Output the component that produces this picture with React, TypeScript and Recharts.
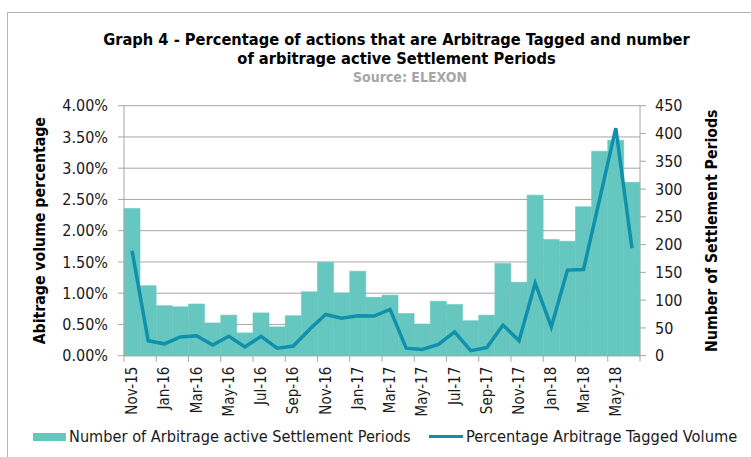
import React from 'react';
import { ComposedChart, Bar, Line, XAxis, YAxis, CartesianGrid } from 'recharts';

const months = [
  'Nov-15', 'Dec-15', 'Jan-16', 'Feb-16', 'Mar-16', 'Apr-16', 'May-16', 'Jun-16',
  'Jul-16', 'Aug-16', 'Sep-16', 'Oct-16', 'Nov-16', 'Dec-16', 'Jan-17', 'Feb-17',
  'Mar-17', 'Apr-17', 'May-17', 'Jun-17', 'Jul-17', 'Aug-17', 'Sep-17', 'Oct-17',
  'Nov-17', 'Dec-17', 'Jan-18', 'Feb-18', 'Mar-18', 'Apr-18', 'May-18', 'Jun-18',
];

// number of arbitrage active settlement periods (right axis)
const periods = [
  265, 126, 90, 88, 93, 59, 73, 41,
  77, 52, 72, 115, 168, 113, 152, 105,
  109, 76, 57, 98, 92, 63, 73, 166,
  132, 289, 209, 206, 268, 368, 388, 312,
];

// percentage arbitrage tagged volume (left axis, in %)
const taggedPct = [
  1.68, 0.24, 0.19, 0.3, 0.32, 0.17, 0.31, 0.14,
  0.31, 0.12, 0.155, 0.42, 0.66, 0.6, 0.64, 0.635,
  0.74, 0.12, 0.1, 0.18, 0.38, 0.08, 0.13, 0.49,
  0.24, 1.16, 0.46, 1.37, 1.38, 2.51, 3.64, 1.72,
];

const pctTicks = [0, 0.5, 1, 1.5, 2, 2.5, 3, 3.5, 4];
const periodTicks = [0, 50, 100, 150, 200, 250, 300, 350, 400, 450];

const data = months.map((m, i) => ({ month: m, periods: periods[i], pct: taggedPct[i] }));

const BAR_COLOR = '#66c7c0';
const LINE_COLOR = '#1190ab';
const AXIS_COLOR = '#a6a6a6';
const FONT = '"DejaVu Sans Condensed", "DejaVu Sans", sans-serif';

const X_TICK_SIZE = 6;
const X_TICK_MARGIN = 5;

const MonthTick = (props: any) => {
  const { x, y, payload, index } = props;
  const half = payload && payload.offset ? payload.offset : 8.06;
  const axisY = y - X_TICK_SIZE - X_TICK_MARGIN;
  const lastShown = index === Math.floor((months.length - 1) / 2);
  return (
    <g>
      <line x1={x - half} x2={x - half} y1={axisY} y2={axisY + X_TICK_SIZE} stroke={AXIS_COLOR} />
      {lastShown && (
        <line x1={x + 3 * half} x2={x + 3 * half} y1={axisY} y2={axisY + X_TICK_SIZE} stroke={AXIS_COLOR} />
      )}
      <text
        x={x}
        y={y}
        transform={`rotate(-90, ${x}, ${y})`}
        textAnchor="end"
        dominantBaseline="central"
        fontSize={15}
        fontFamily={FONT}
        fill="#1a1a1a"
      >
        {payload.value}
      </text>
    </g>
  );
};

const AxisTitle = (dx: number, text: string) => (props: any) => {
  const vb = props.viewBox;
  const cx = vb.x + dx;
  const cy = vb.y + vb.height / 2;
  return (
    <text
      x={cx}
      y={cy}
      transform={`rotate(-90, ${cx}, ${cy})`}
      textAnchor="middle"
      dominantBaseline="central"
      fontSize={15.7}
      fontWeight="bold"
      fontFamily={FONT}
      fill="#000"
    >
      {text}
    </text>
  );
};

export default function App() {
  return (
    <div style={{ position: 'absolute', left: 0, top: 0, width: 751, height: 457, background: '#fff', overflow: 'hidden', fontFamily: FONT }}>
      <div style={{ position: 'absolute', left: 7, top: 12, width: 760, height: 460, borderLeft: '1px solid #b5b5b5', borderTop: '1px solid #b5b5b5' }} />
      <div style={{ position: 'absolute', left: 0, top: 30, width: 793, textAlign: 'center', fontWeight: 'bold', fontSize: 16.3, lineHeight: '19px', color: '#000' }}>
        Graph 4 - Percentage of actions that are Arbitrage Tagged and number<br />
        of arbitrage active Settlement Periods
      </div>
      <div style={{ position: 'absolute', left: 0, top: 69, width: 820, textAlign: 'center', fontWeight: 'bold', fontSize: 14, color: '#a6a6a6' }}>
        Source: ELEXON
      </div>
      <div style={{ position: 'absolute', left: 0, top: 0 }}>
        <ComposedChart
          width={751}
          height={457}
          data={data}
          margin={{ top: 105.7, right: 31, left: 0, bottom: 31.3 }}
          barCategoryGap={0}
          barGap={0}
        >
          <CartesianGrid yAxisId="pct" vertical={false} stroke={AXIS_COLOR} strokeWidth={1} />
          <XAxis
            dataKey="month"
            interval={1}
            height={70}
            tickLine={false}
            tickSize={X_TICK_SIZE}
            tickMargin={X_TICK_MARGIN}
            axisLine={{ stroke: AXIS_COLOR }}
            tick={<MonthTick />}
          />
          <YAxis
            yAxisId="pct"
            orientation="left"
            width={124}
            domain={[0, 4]}
            ticks={pctTicks}
            interval={0}
            tickFormatter={(v: number) => v.toFixed(2) + '%'}
            tickSize={6}
            tickMargin={10}
            axisLine={{ stroke: AXIS_COLOR }}
            tickLine={{ stroke: AXIS_COLOR }}
            tick={{ fontSize: 16, fontFamily: FONT, fill: '#1a1a1a' }}
            label={{ content: AxisTitle(40, 'Abitrage volume percentage') }}
          />
          <YAxis
            yAxisId="periods"
            orientation="right"
            width={80}
            domain={[0, 450]}
            ticks={periodTicks}
            interval={0}
            tickSize={6}
            tickMargin={9}
            axisLine={{ stroke: AXIS_COLOR }}
            tickLine={{ stroke: AXIS_COLOR }}
            tick={{ fontSize: 16, fontFamily: FONT, fill: '#1a1a1a', textAnchor: 'start' }}
            label={{ content: AxisTitle(72, 'Number of Settlement Periods') }}
          />
          <Bar
            yAxisId="periods"
            dataKey="periods"
            fill={BAR_COLOR}
            stroke={BAR_COLOR}
            strokeWidth={0.6}
            isAnimationActive={false}
          />
          <Line
            yAxisId="pct"
            dataKey="pct"
            type="linear"
            stroke={LINE_COLOR}
            strokeWidth={3.5}
            dot={false}
            activeDot={false}
            isAnimationActive={false}
          />
        </ComposedChart>
      </div>
      <div style={{ position: 'absolute', left: 33, top: 427, fontSize: 16.2, color: '#1a1a1a', display: 'flex', alignItems: 'center', whiteSpace: 'nowrap' }}>
        <span style={{ display: 'inline-block', width: 33, height: 8, background: BAR_COLOR, marginRight: 3 }} />
        <span>Number of Arbitrage active Settlement Periods</span>
      </div>
      <div style={{ position: 'absolute', left: 429, top: 427, fontSize: 16.3, color: '#1a1a1a', display: 'flex', alignItems: 'center', whiteSpace: 'nowrap' }}>
        <span style={{ display: 'inline-block', width: 34, height: 3.5, background: LINE_COLOR, marginRight: 3 }} />
        <span>Percentage Arbitrage Tagged Volume</span>
      </div>
    </div>
  );
}
